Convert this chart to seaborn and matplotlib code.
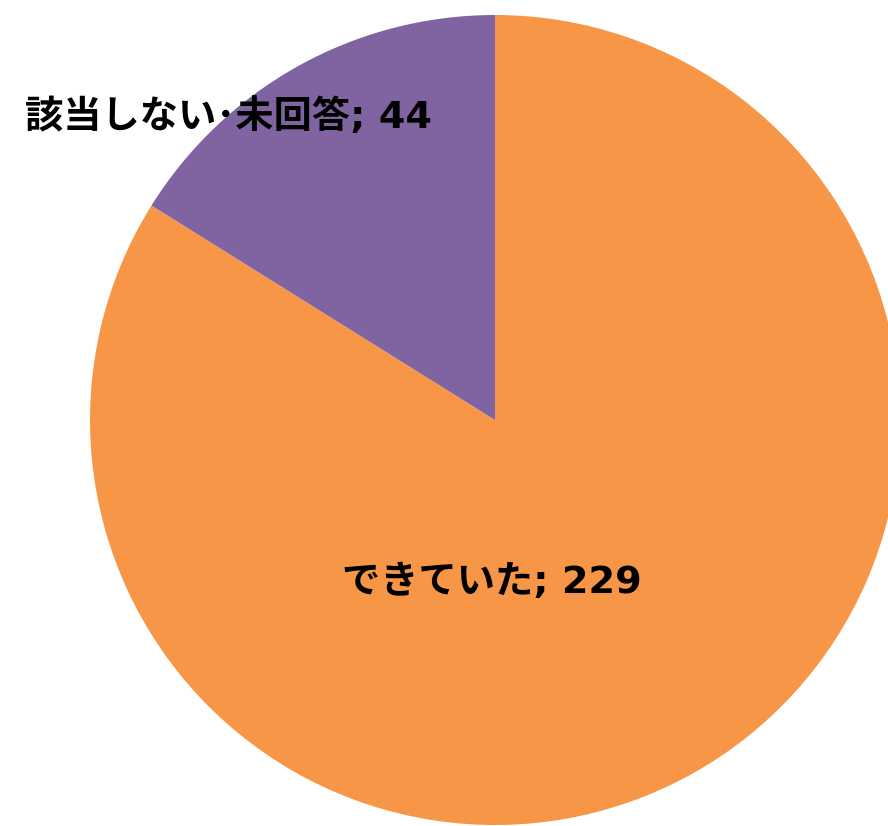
"""Pie chart: できていた vs 該当しない・未回答."""
import matplotlib
matplotlib.use('Agg')
import matplotlib.pyplot as plt
import seaborn as sns

categories = ['できていた', '該当しない･未回答']
counts = [229, 44]
colors = ['#F79646', '#8064A2']

sns.set_theme(style='white')
# DejaVu (Verdana-like) for the Latin part, Noto CJK for the Japanese
plt.rcParams['font.family'] = ['DejaVu Sans', 'Noto Sans CJK JP']

fig = plt.figure(figsize=(8.88, 8.26), dpi=100)
ax = fig.add_axes([0, 0, 1, 1])

# Pie: clockwise from 12 o'clock
ax.pie(counts, colors=colors, startangle=90, counterclock=False,
       radius=1.0, wedgeprops=dict(linewidth=0))

# Place the pie so it runs off the right edge, like the original
px = 405.0
cx, cy = 495.0, 420.0
ax.set_xlim(-cx / px, (888 - cx) / px)
ax.set_ylim(-(826 - cy) / px, cy / px)
ax.set_aspect('auto')
ax.axis('off')

# Data labels
label_pos = [(-0.007, -0.402), (-0.657, 0.748)]
for cat, n, (x, y) in zip(categories, counts, label_pos):
    ax.text(x, y, f'{cat}; {n}', ha='center', va='center',
            fontsize=27.5, fontweight='bold', color='black')

fig.savefig('out.png', dpi=100)
